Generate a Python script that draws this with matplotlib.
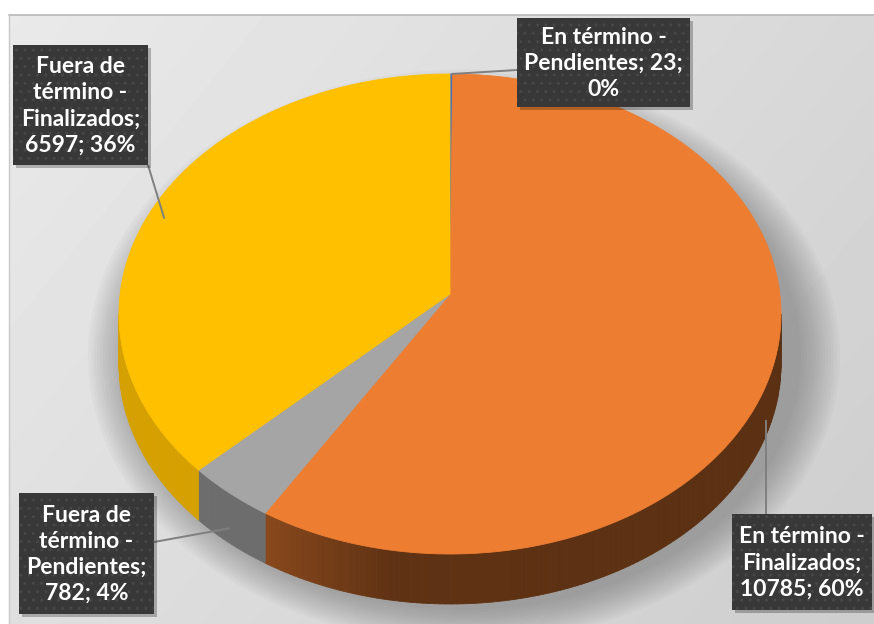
import numpy as np
import matplotlib
matplotlib.use("Agg")
import matplotlib.pyplot as plt
from matplotlib.patches import Polygon, Rectangle, Ellipse
from matplotlib.colors import to_rgb

# data (Excel 3D pie, clockwise from 12 o'clock)
names = ["En término - Pendientes", "En término - Finalizados",
         "Fuera de término - Pendientes", "Fuera de término - Finalizados"]
values = [23, 10785, 782, 6597]
pcts = [0, 60, 4, 36]   # as printed on the chart
colors = ["#4472C4", "#ED7D31", "#A5A5A5", "#FFC000"]

# label text, wrapped as in the picture
label_text = [
    "En término -\nPendientes; 23;\n0%",
    "En término -\nFinalizados;\n10785; 60%",
    "Fuera de\ntérmino -\nPendientes;\n782; 4%",
    "Fuera de\ntérmino -\nFinalizados;\n6597; 36%",
]

# layout (pixel space)
W, H = 874, 624
CX, CY, RX, RY = 450, 314, 331, 240
APEX_DY = -20       # perspective: centre sits above ellipse centre
DEPTH = 50
BOXES = [(517, 18, 173, 89), (732, 514, 140, 96), (19, 493, 135, 121), (13, 45, 135, 120)]
LEADER_END = [(517, 70), None, (154, 542), (148, 165)]
ANCHOR_R = [1.0, 1.0, 1.0, 0.95]


def rim(t, k=1.0):
    r = np.radians(t)
    return CX + k * RX * np.sin(r), CY - k * RY * np.cos(r)


def shade(c, f):
    r, g, b = to_rgb(c)
    return (r * f, g * f, b * f)


side_f = {
    1: lambda t: np.interp(t, [90, 190, 214], [0.38, 0.40, 0.58]),
    2: lambda t: 0.66,
    3: lambda t: 0.84,
    0: lambda t: 0.6,
}

fig = plt.figure(figsize=(W / 100, H / 100), dpi=100)
ax = fig.add_axes([0, 0, 1, 1])
ax.set_xlim(0, W)
ax.set_ylim(H, 0)
ax.axis("off")

# chart area background
xx, yy = np.meshgrid(np.linspace(0, 1, 200), np.linspace(0, 1, 150))
bg = 0.915 - 0.07 * xx - 0.04 * yy
ax.imshow(bg, cmap="gray", vmin=0, vmax=1, extent=(9, W, H, 15), zorder=0,
          interpolation="bilinear", aspect="auto")
ax.plot([9, W], [15, 15], color="#B8B8B8", lw=1.2, zorder=1)
ax.plot([9, 9], [15, H], color="#C8C8C8", lw=1.0, zorder=1)

# soft shadow under the pie
for k in range(14):
    ax.add_patch(Ellipse((CX + 14, CY + 42), 2 * (RX + 6 + 3 * k), 2 * (RY + 14 + 2.5 * k),
                         color="#606060", alpha=0.04, lw=0, zorder=1))

total = sum(values)
bounds = np.concatenate([[0], np.cumsum(values) / total * 360])

# side walls (front half only)
for i, c in enumerate(colors):
    a0, a1 = max(bounds[i], 90), min(bounds[i + 1], 270)
    if a1 <= a0:
        continue
    ts = np.linspace(a0, a1, max(int(a1 - a0), 1) + 1)
    for t0, t1 in zip(ts[:-1], ts[1:]):
        x0, y0 = rim(t0)
        x1, y1 = rim(t1)
        col = shade(c, side_f[i]((t0 + t1) / 2))
        ax.add_patch(Polygon([(x0, y0), (x1, y1), (x1, y1 + DEPTH), (x0, y0 + DEPTH)],
                             closed=True, fc=col, ec=col, lw=0.6, zorder=2))

# top faces
for i, c in enumerate(colors):
    ts = np.linspace(bounds[i], bounds[i + 1], max(int(bounds[i + 1] - bounds[i]), 1) * 2 + 1)
    pts = [(CX, CY + APEX_DY)] + [rim(t) for t in ts]
    ax.add_patch(Polygon(pts, closed=True, fc=c, ec=c, lw=0.6, zorder=3))

# leader lines
for i in range(4):
    mid = (bounds[i] + bounds[i + 1]) / 2
    x, y = rim(mid, ANCHOR_R[i])
    if 90 < mid < 270:
        y += 0.7 * DEPTH
    bx, by, bw, bh = BOXES[i]
    end = LEADER_END[i] if LEADER_END[i] is not None else (x, by)
    ax.plot([x, end[0]], [y, end[1]], color="#7F7F7F", lw=1.4, zorder=4,
            solid_capstyle="butt")

# label boxes
for i in range(4):
    bx, by, bw, bh = BOXES[i]
    ax.add_patch(Rectangle((bx + 3, by + 3), bw, bh, fc="#000000", alpha=0.25, lw=0, zorder=5))
    ax.add_patch(Rectangle((bx, by), bw, bh, fc="#383838", ec="#474747", lw=0,
                           hatch="..", zorder=6))
    ax.text(bx + bw / 2, by + bh / 2 + 1, label_text[i], ha="center", va="center",
            color="white", fontsize=16.5, fontweight="bold", family="Lato",
            linespacing=1.3, zorder=7)

fig.savefig("out.png", dpi=100, facecolor="white")
